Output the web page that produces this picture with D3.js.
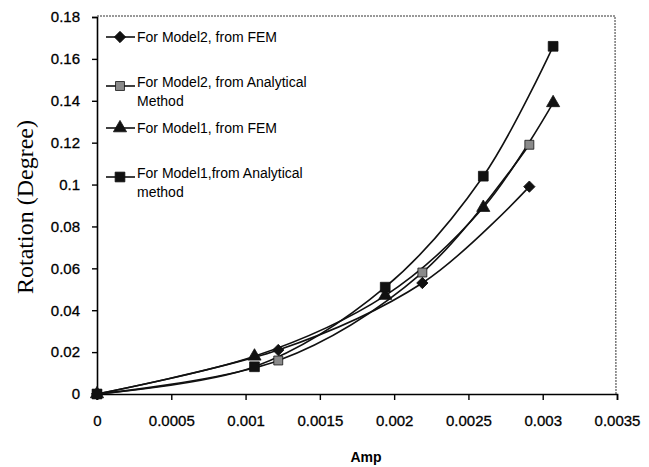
<!DOCTYPE html>
<html>
<head>
<meta charset="utf-8">
<script src="https://cdn.jsdelivr.net/npm/d3@7"></script>
<style>
  body { margin: 0; background: #fff; }
  text { font-family: "Liberation Sans", Arial, sans-serif; }
</style>
</head>
<body>
<div id="chart"></div>
<script>
var width = 649;
var height = 467;

// data
var model2Amp = [0, 0.00122, 0.00219, 0.00291];
var model2Fem = [0, 0.021, 0.053, 0.099];
var model2Analytical = [0, 0.016, 0.058, 0.119];

var model1Amp = [0, 0.00106, 0.00194, 0.0026, 0.00307];
var model1Fem = [0, 0.018, 0.047, 0.089, 0.139];
var model1Analytical = [0, 0.013, 0.051, 0.104, 0.166];

var xTicks = [0, 0.0005, 0.001, 0.0015, 0.002, 0.0025, 0.003, 0.0035];
var yTicks = [0, 0.02, 0.04, 0.06, 0.08, 0.1, 0.12, 0.14, 0.16, 0.18];

var legendLabels = [
    ["For Model2, from FEM"],
    ["For Model2, from Analytical", "Method"],
    ["For Model1, from FEM"],
    ["For Model1,from Analytical", "method"]
];

var series = [
    { name: "m2fem", xs: model2Amp, ys: model2Fem, shape: d3.symbolSquare, rot: 45, fill: "#111", size: 64 },
    { name: "m2an", xs: model2Amp, ys: model2Analytical, shape: d3.symbolSquare, rot: 0, fill: "#8a8a8a", size: 80 },
    { name: "m1fem", xs: model1Amp, ys: model1Fem, shape: d3.symbolTriangle, rot: 0, fill: "#111", size: 75 },
    { name: "m1an", xs: model1Amp, ys: model1Analytical, shape: d3.symbolSquare, rot: 0, fill: "#111", size: 95 }
];

var svg = d3.select("#chart")
    .append("svg")
    .attr("width", width)
    .attr("height", height);

var x = d3.scaleLinear().domain([0, 0.0035]).range([97, 617]);
var y = d3.scaleLinear().domain([0, 0.18]).range([394, 17]);

// frame (top and right)
svg.append("path")
    .attr("d", "M97,16 L615,16 L616,394")
    .attr("fill", "none")
    .attr("stroke", "#333")
    .attr("stroke-width", 1)
    .attr("stroke-dasharray", "2,1");

var xAxis = svg.append("g")
    .attr("transform", "translate(0,394)")
    .call(d3.axisBottom(x).tickValues(xTicks).tickSize(6).tickPadding(12)
        .tickFormat(function (d) { return d3.format("")(+d.toFixed(4)); }));

var yAxis = svg.append("g")
    .attr("transform", "translate(97,0)")
    .call(d3.axisLeft(y).tickValues(yTicks).tickSize(5).tickPadding(12)
        .tickFormat(function (d) { return d3.format("")(+d.toFixed(2)); }));

[xAxis, yAxis].forEach(function (a) {
    a.select(".domain").attr("stroke", "#000").attr("stroke-width", 1.6);
    a.selectAll(".tick line").attr("stroke", "#000").attr("stroke-width", 1.4);
    a.selectAll(".tick text")
        .attr("fill", "#000")
        .attr("stroke", "#000")
        .attr("stroke-width", 0.3)
        .style("font-size", "15px")
        .style("font-family", "'Liberation Sans', Arial, sans-serif");
});
xAxis.selectAll(".tick text").attr("dy", "0.9em");

// axis titles
svg.append("text")
    .attr("transform", "translate(33,207) rotate(-90)")
    .attr("text-anchor", "middle")
    .style("font-family", "'Liberation Serif', 'Times New Roman', serif")
    .style("font-size", "24px")
    .text("Rotation (Degree)");

svg.append("text")
    .attr("x", 366)
    .attr("y", 462)
    .attr("text-anchor", "middle")
    .style("font-size", "14px")
    .style("font-weight", "bold")
    .text("Amp");

// smooth lines
var line = d3.line()
    .x(function (d) { return x(d[0]); })
    .y(function (d) { return y(d[1]); })
    .curve(d3.curveCardinal.tension(0));

series.forEach(function (s) {
    var pts = s.xs.map(function (v, i) { return [v, s.ys[i]]; });
    svg.append("path")
        .datum(pts)
        .attr("d", line)
        .attr("fill", "none")
        .attr("stroke", "#111")
        .attr("stroke-width", 1.6);
});

series.forEach(function (s) {
    var pts = s.xs.map(function (v, i) { return [v, s.ys[i]]; });
    svg.selectAll(".pt-" + s.name)
        .data(pts)
        .enter().append("path")
        .attr("class", "pt-" + s.name)
        .attr("transform", function (d) {
            return "translate(" + x(d[0]) + "," + y(d[1]) + ") rotate(" + s.rot + ")";
        })
        .attr("d", d3.symbol().type(s.shape).size(s.size))
        .attr("fill", s.fill)
        .attr("stroke", "#111")
        .attr("stroke-width", 0.8);
});

// legend
var legendRows = [37, 86, 128, 177];
var legend = svg.append("g");
series.forEach(function (s, i) {
    var ly = legendRows[i];
    legend.append("line")
        .attr("x1", 106).attr("x2", 135)
        .attr("y1", ly).attr("y2", ly)
        .attr("stroke", "#111").attr("stroke-width", 1.6);
    legend.append("path")
        .attr("transform", "translate(120," + ly + ") rotate(" + s.rot + ")")
        .attr("d", d3.symbol().type(s.shape).size(s.size))
        .attr("fill", s.fill)
        .attr("stroke", "#111")
        .attr("stroke-width", 0.8);
    var lines = legendLabels[i];
    var startY = lines.length > 1 ? ly - 4 : ly;
    lines.forEach(function (t, j) {
        legend.append("text")
            .attr("x", 137)
            .attr("y", startY + j * 19)
            .attr("dy", "0.35em")
            .style("font-size", "14px")
            .text(t);
    });
});
</script>
</body>
</html>
